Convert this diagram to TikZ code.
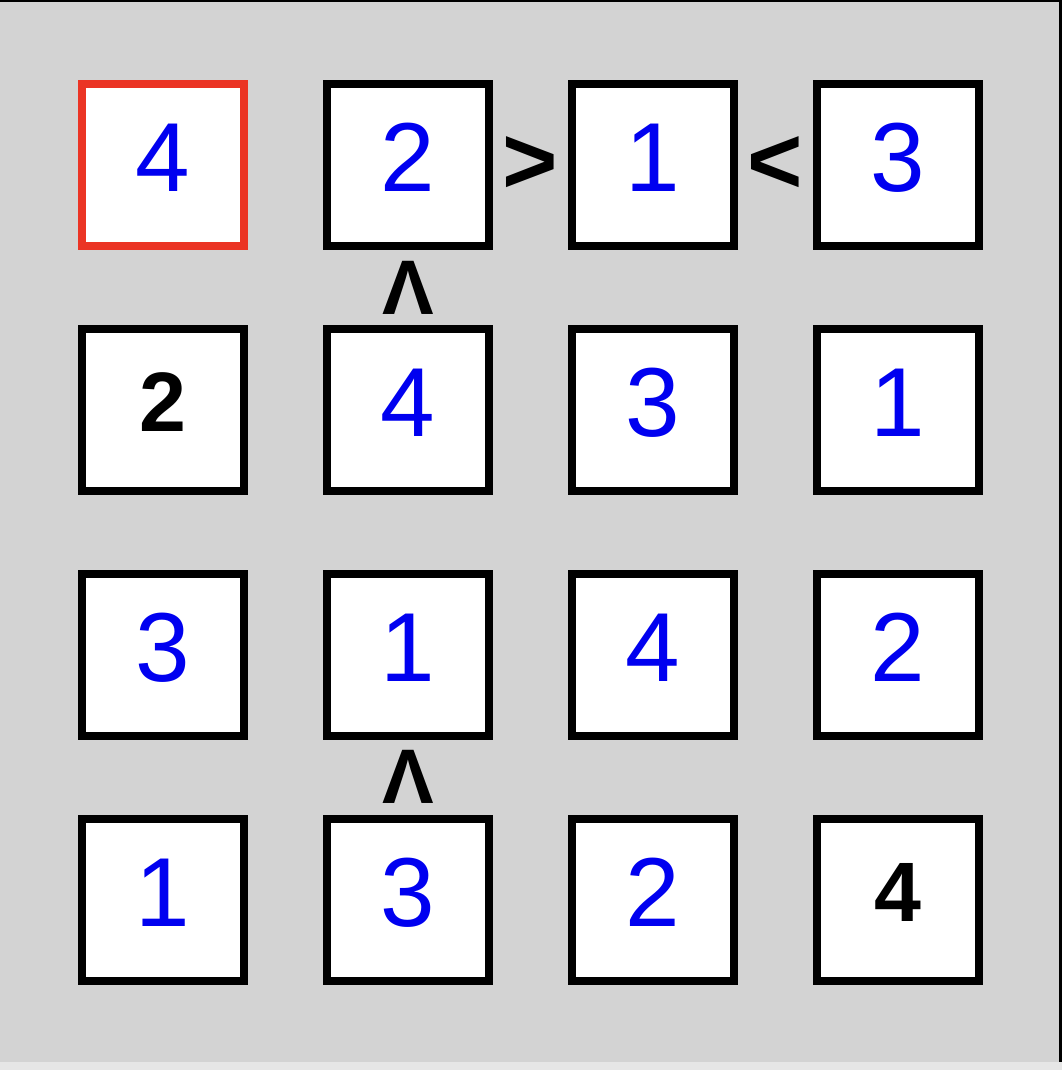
\documentclass[tikz,border=0pt]{standalone}
\usepackage{fontspec}
\setmainfont{Liberation Sans}
\usepackage{xcolor}
\usetikzlibrary{positioning, calc}

\definecolor{boardgray}{RGB}{211,211,211}
\definecolor{stripgray}{RGB}{230,230,230}
\definecolor{numblue}{RGB}{0,0,240}
\definecolor{markred}{RGB}{235,52,36}

\begin{document}
\begin{tikzpicture}[x=0.02cm, y=-0.02cm, node distance=4.9cm]
    % Styles de la grille
    \tikzset{
        cell/.style  = {rectangle, draw=black, fill=white, line width=0.16cm, minimum size=3.24cm, inner sep=0pt, text height=1.4cm, text depth=0.32cm},
        guess/.style = {cell, text=numblue, font=\fontsize{55.8}{60}\selectfont},
        given/.style = {cell, text depth=0.52cm, font=\fontsize{48}{52}\selectfont\bfseries},
        sel/.style   = {draw=markred},
        sign/.style  = {inner sep=0pt, font=\fontsize{54}{58}\selectfont\bfseries},
        vsign/.style = {inner sep=0pt, font=\fontsize{44}{48}\selectfont\bfseries}
    }

    % Fond du plateau
    \useasboundingbox (0,0) rectangle (1062,1070);
    \fill[boardgray] (0,0) rectangle (1062,1062);
    \fill[stripgray] (0,1062) rectangle (1062,1070);
    \fill[black] (0,0) rectangle (1062,2);
    \fill[black] (1059,0) rectangle (1062,1062);

    % Ligne 1
    \node [guess, sel] (c11) at (163,165) {4};
    \node [guess, right of=c11] (c12) {2};
    \node [guess, right of=c12] (c13) {1};
    \node [guess, right of=c13] (c14) {3};

    % Ligne 2
    \node [given, below of=c11] (c21) {2};
    \node [guess, right of=c21] (c22) {4};
    \node [guess, right of=c22] (c23) {3};
    \node [guess, right of=c23] (c24) {1};

    % Ligne 3
    \node [guess, below of=c21] (c31) {3};
    \node [guess, right of=c31] (c32) {1};
    \node [guess, right of=c32] (c33) {4};
    \node [guess, right of=c33] (c34) {2};

    % Ligne 4
    \node [guess, below of=c31] (c41) {1};
    \node [guess, right of=c41] (c42) {3};
    \node [guess, right of=c42] (c43) {2};
    \node [given, right of=c43] (c44) {4};

    % Contraintes
    \node [sign] (gt1213) at ($(c12)!0.5!(c13)$) {>};
    \node [sign] (lt1314) at ($(c13)!0.5!(c14)$) {<};
    \node [vsign] (up1222) at ($(c12)!0.5!(c22)$) {Λ};
    \node [vsign] (up3242) at ($(c32)!0.5!(c42)$) {Λ};
\end{tikzpicture}
\end{document}
